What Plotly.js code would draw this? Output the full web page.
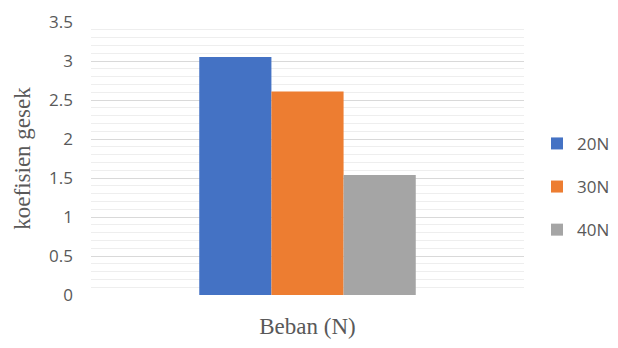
<!DOCTYPE html>
<html>
<head>
<meta charset="utf-8">
<script src="https://cdn.plot.ly/plotly-3.0.1.min.js"></script>
<style>html,body{margin:0;padding:0;background:#fff;}#chart{width:618px;height:348px;}</style>
</head>
<body>
<div id="chart"></div>
<script>
const categories = ["Beban (N)"];
const seriesNames = ["20N", "30N", "40N"];
const values20N = [3.05];
const values30N = [2.61];
const values40N = [1.54];
const colors = ["#4472C4", "#ED7D31", "#A5A5A5"];

const seriesValues = [values20N, values30N, values40N];
const traces = seriesNames.map((name, i) => ({
  type: "bar",
  name: name,
  x: categories,
  y: seriesValues[i],
  legendgroup: name,
  marker: {color: colors[i], line: {width: 0}},
  hoverinfo: "none"
}));

const layout = {
  width: 618,
  height: 348,
  margin: {l: 91, r: 94, t: 22, b: 53, autoexpand: false},
  paper_bgcolor: "#ffffff",
  plot_bgcolor: "#ffffff",
  barmode: "group",
  bargap: 0.5,
  bargroupgap: 0,
  showlegend: true,
  legend: {
    x: 1.03, xanchor: "left",
    y: 0.396, yanchor: "middle",
    font: {family: "'Open Sans', 'Liberation Sans', sans-serif", size: 17, color: "#595959"},
    traceorder: "grouped",
    tracegroupgap: 18,
    itemwidth: 30
  },
  xaxis: {
    showticklabels: false,
    showgrid: false,
    zeroline: false,
    showline: false,
    ticks: "",
    title: {
      text: "Beban (N)",
      font: {family: "'Liberation Serif', 'DejaVu Serif', serif", size: 23, color: "#595959"},
      standoff: 22
    }
  },
  yaxis: {
    range: [0, 3.5],
    dtick: 0.5,
    tick0: 0,
    showgrid: true,
    gridcolor: "#d9d9d9",
    gridwidth: 1,
    zeroline: false,
    showline: false,
    ticks: "",
    ticklabelstandoff: 17,
    tickfont: {family: "'Open Sans', 'Liberation Sans', sans-serif", size: 17, color: "#595959"},
    minor: {dtick: 0.1, showgrid: true, gridcolor: "#eeeeee", gridwidth: 1, ticks: ""},
    title: {
      text: "koefisien gesek",
      font: {family: "'Liberation Serif', 'DejaVu Serif', serif", size: 23, color: "#595959"},
      standoff: 12
    }
  }
};

Plotly.newPlot("chart", traces, layout, {displayModeBar: false, staticPlot: true});
</script>
</body>
</html>
